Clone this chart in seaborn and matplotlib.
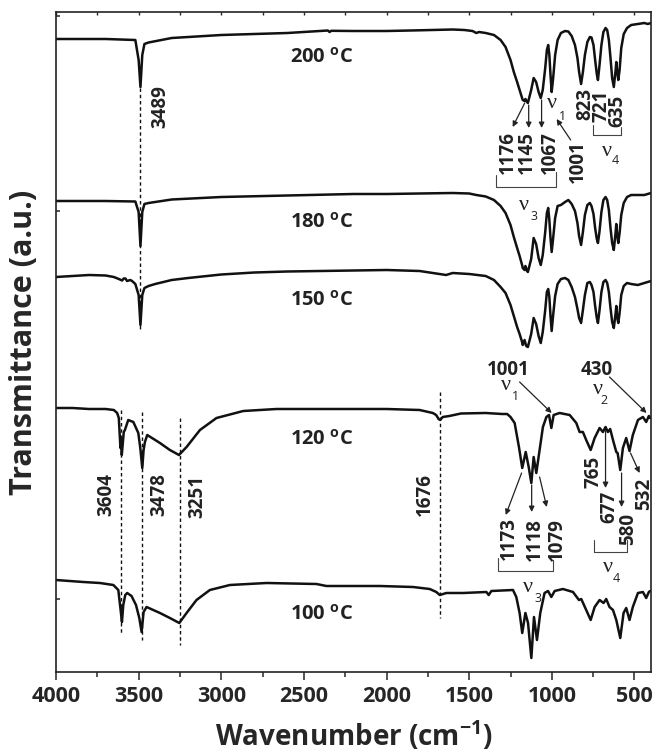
import numpy as np
import pandas as pd
import seaborn as sns
import matplotlib.pyplot as plt

# wavenumber (cm-1) and transmittance (a.u., relative to each trace start)
wn_200 = [4000, 3700, 3520, 3500, 3489, 3478, 3465, 3440, 3300, 3000, 2600, 2355, 2345, 2335, 2200, 2000,
          1800, 1600, 1530, 1480, 1457, 1440, 1400, 1350, 1310, 1280, 1250, 1230, 1210, 1195, 1180, 1176,
          1165, 1160, 1150, 1145, 1125, 1110, 1095, 1080, 1067, 1055, 1040, 1030, 1022, 1015, 1008, 1001,
          992, 980, 965, 945, 920, 900, 880, 860, 845, 835, 823, 812, 800, 785, 770, 760, 748, 738, 728,
          721, 712, 700, 688, 675, 665, 655, 645, 635, 625, 614, 610, 604, 598, 590, 580, 565, 545, 520,
          480, 440, 420, 400]
t_200 = [0, 0, -1, -21, -48, -16, -5, -3.5, 1, 4, 6, 8.5, 7, 8.2, 8, 8,
         8.7, 9.5, 9, 8, 6, 7, 6, 4, -1, -8, -21, -33, -43, -51, -59, -61,
         -62, -60, -63, -64, -51, -39, -43, -53, -59, -51, -29, -11, -6, -16, -36, -53,
         -39, -16, -1, 6, 8, 7.5, 3, -6, -19, -33, -45, -33, -16, -3, 2, 1.5, -6, -21, -35,
         -41, -27, -6, 7, 11, 9, -1, -19, -39, -48, -31, -23, -33, -41, -31, -9, 5, 11, 14,
         15, 16, 15, 16]

wn_180 = [4000, 3700, 3520, 3500, 3489, 3478, 3465, 3440, 3300, 3000, 2600, 2200, 2000, 1800, 1600, 1500,
          1457, 1400, 1350, 1310, 1280, 1250, 1230, 1210, 1195, 1180, 1176, 1165, 1160, 1150, 1145, 1125,
          1110, 1095, 1080, 1067, 1055, 1040, 1030, 1022, 1015, 1008, 1001, 992, 980, 965, 945, 920, 900,
          880, 860, 845, 835, 823, 812, 800, 785, 770, 760, 748, 738, 728, 721, 712, 700, 688, 675, 665,
          655, 645, 635, 625, 614, 610, 604, 598, 590, 580, 565, 545, 520, 480, 440, 400]
t_180 = [0, 0, -0.5, -11, -45, -11, -3, -2, 1.5, 4, 5.5, 7, 7, 7.5, 8, 7.5,
         6, 4.5, 1, -5, -12, -24, -36, -47, -55, -64, -67, -69, -65, -70, -71, -58,
         -37, -43, -57, -64, -54, -31, -12, -7, -19, -37, -51, -37, -17, -5, -4, -1, 1,
         -3, -10, -22, -35, -44, -31, -14, -4, -2, -5, -13, -27, -38, -42, -31, -11, 1, 4, 1,
         -9, -27, -42, -49, -31, -23, -35, -42, -32, -14, -2, 4, 6, 6, 6, 8]

wn_150 = [4000, 3900, 3800, 3700, 3650, 3620, 3600, 3590, 3580, 3570, 3560, 3550, 3540, 3520, 3500, 3489,
          3478, 3465, 3440, 3400, 3300, 3200, 3000, 2800, 2600, 2400, 2200, 2000, 1800, 1640, 1600, 1500,
          1400, 1350, 1310, 1280, 1250, 1230, 1210, 1195, 1180, 1176, 1165, 1155, 1145, 1125, 1110, 1095,
          1080, 1067, 1055, 1040, 1030, 1022, 1015, 1008, 1001, 992, 980, 965, 945, 920, 900, 880, 860,
          845, 835, 823, 812, 800, 785, 770, 760, 748, 738, 728, 721, 712, 700, 688, 675, 665, 655, 645,
          635, 625, 614, 610, 604, 598, 590, 580, 565, 545, 520, 480, 440, 400]
t_150 = [0, 1, 2, 1.5, 0, -2, -3.5, -1.5, -1.5, -4, -3.5, -3, -4, -7, -18, -48,
         -18, -11, -9, -7, -3, -1, 2.5, 4.5, 5.5, 6, 6.5, 7, 6, 2, 4, 3,
         1, -3, -10, -16, -28, -39, -50, -57, -65, -68, -63, -69, -70, -57, -41, -47,
         -59, -66, -55, -33, -15, -12, -20, -39, -54, -38, -19, -7, -2, -1, -3, -10, -20,
         -32, -41, -46, -33, -18, -6, -5, -8, -15, -29, -41, -46, -34, -15, -5, -3, -6, -15, -31,
         -45, -51, -36, -29, -41, -46, -36, -18, -9, -6, -7, -8, -6, -4]

wn_120 = [4000, 3900, 3800, 3700, 3650, 3630, 3620, 3610, 3606, 3602, 3590, 3583, 3563, 3532, 3502, 3490,
          3478, 3470, 3462, 3448, 3371, 3311, 3256, 3210, 3129, 3029, 2867, 2666, 2400, 2200, 2000, 1800,
          1720, 1700, 1685, 1676, 1660, 1620, 1550, 1400, 1350, 1300, 1270, 1250, 1225, 1199, 1179, 1158,
          1140, 1124, 1110, 1094, 1074, 1054, 1033, 1017, 1003, 989, 953, 892, 852, 832, 812, 792, 765,
          741, 711, 691, 675, 661, 647, 630, 610, 602, 586, 570, 550, 530, 510, 479, 449, 429, 413, 405]
t_120 = [0, 0, -1, -1, -2, -5, -10, -40, -32, -47, -24, -22, -12, -14, -25, -40,
         -60, -42, -34, -27, -35, -42, -47, -39, -22, -10, -3, -1, -1, -1, -1, -2,
         -5, -7, -11, -12, -9, -8, -5.5, -5, -5.5, -6, -6, -9, -15, -39, -60, -44,
         -59, -75, -49, -65, -42, -19, -9, -7, -20, -7, -5, -7, -15, -24, -24, -32, -42,
         -30, -20, -24, -19, -24, -21, -32, -44, -45, -62, -40, -30, -43, -27, -12, -9, -14, -8, -10]

wn_100 = [4000, 3835, 3734, 3653, 3623, 3609, 3601, 3593, 3581, 3569, 3543, 3516, 3496, 3482, 3470, 3452,
          3371, 3311, 3254, 3210, 3150, 3069, 2948, 2726, 2424, 2364, 2041, 1840, 1739, 1699, 1678, 1638,
          1537, 1396, 1382, 1366, 1235, 1215, 1195, 1179, 1160, 1144, 1124, 1108, 1090, 1070, 1044, 1023,
          1003, 983, 933, 872, 836, 822, 792, 765, 741, 711, 687, 671, 651, 630, 610, 586, 566, 550,
          530, 510, 479, 449, 429, 413, 405]
t_100 = [0, -2, -3, -5, -10, -30, -42, -25, -15, -13, -16, -25, -38, -52, -32, -27,
         -33, -38, -43, -33, -20, -10, -5, -3, -4, -6, -6, -7, -9, -12, -15, -13,
         -13, -12, -15, -11, -10, -17, -33, -53, -33, -43, -78, -37, -60, -33, -13, -11,
         -17, -11, -9, -12, -20, -19, -30, -40, -27, -20, -23, -19, -27, -30, -40, -58, -33, -28,
         -40, -27, -13, -12, -18, -12, -11]

temps = ['200', '180', '150', '120', '100']
traces = {'200': (wn_200, t_200), '180': (wn_180, t_180), '150': (wn_150, t_150),
          '120': (wn_120, t_120), '100': (wn_100, t_100)}

# marked band positions
oh_peaks = [3489, 3604, 3478, 3251, 1676]

sns.set_theme(style='ticks')
plt.rcParams['font.family'] = ['Open Sans', 'DejaVu Sans']
plt.rcParams['font.weight'] = 'bold'
plt.rcParams['mathtext.fontset'] = 'custom'
plt.rcParams['mathtext.rm'] = 'Open Sans:bold'
plt.rcParams['mathtext.bf'] = 'Open Sans:bold'
plt.rcParams['axes.edgecolor'] = '#222222'

fig = plt.figure(figsize=(6.58, 7.55), dpi=100)
ax = fig.add_axes([56 / 658, 83 / 755, 595 / 658, 660 / 755])

offsets = {'200': 633, '180': 471, '150': 395, '120': 264, '100': 92}
label_y = {'200': 614, '180': 449, '150': 371, '120': 232, '100': 57}

for t in temps:
    wn, tr = traces[t]
    df = pd.DataFrame({'wn': wn, 'T': np.array(tr) + offsets[t]})
    sns.lineplot(data=df, x='wn', y='T', sort=False, estimator=None, color='#111111', lw=1.8, ax=ax)
    ax.text(2392, label_y[t], t + r' $^{\rm o}$C', ha='center', va='center', fontsize=14.5,
            fontweight='bold', color='#222222')

# dashed guide lines
spans = [(584, 341), (262, 39), (260, 32), (254, 27), (280, 54)]
for p, (y0, y1) in zip(oh_peaks, spans):
    ax.plot([p, p], [y0, y1], ls=(0, (2.5, 2)), lw=1.0, color='#111111')

lab_kw = dict(rotation=90, ha='center', va='center', fontsize=13.5, fontweight='bold', color='#222222')
rot_labels = [('3489', 3371, 565), ('1176', 1264, 519), ('1145', 1149, 519), ('1067', 1013, 519),
              ('1001', 842, 510), ('823', 796, 568), ('721', 699, 566), ('635', 602, 561),
              ('3604', 3698, 177), ('3478', 3377, 177), ('3251', 3148, 176), ('1676', 1769, 177),
              ('1173', 1261, 133), ('1118', 1104, 132), ('1079', 971, 132), ('765', 747, 200),
              ('677', 651, 165), ('580', 536, 143), ('532', 439, 178)]
for s, x, y in rot_labels:
    ax.text(x, y, s, **lab_kw)

for s, x, y in [('1001', 1264, 302), ('430', 729, 302)]:
    ax.text(x, y, s, ha='center', va='center', fontsize=13.5, fontweight='bold', color='#222222')

# arrows
arrows = [((1164, 569), (1237, 545)), ((1140, 567), (1140, 544)), ((1062, 572), (1062, 544)),
          ((886, 532), (971, 553)), ((1195, 290), (1001, 259)), ((651, 295), (427, 259)),
          ((1183, 199), (1279, 157)), ((1122, 187), (1122, 160)), ((1074, 195), (1031, 165)),
          ((675, 242), (675, 184)), ((578, 199), (578, 165)), ((524, 219), (469, 199))]
for tail, head in arrows:
    ax.annotate('', xy=head, xytext=tail,
                arrowprops=dict(arrowstyle='-|>', lw=0.9, color='#222222', mutation_scale=8,
                                shrinkA=0, shrinkB=0))

# brackets
brackets = [(1340, 977, 497, 485, 500), (753, 584, 547, 537, 545),
            (1328, 995, 114, 101, 112), (747, 548, 132, 120, 132)]
for xl, xr, yl, yb, yr in brackets:
    ax.plot([xl, xl, xr, xr], [yl, yb, yb, yr], lw=0.8, color='#444444')

# nu labels
nus = [('1', 1002, 569, 935, 556), ('4', 669, 520, 614, 512), ('3', 1170, 467, 1110, 456),
       ('1', 1279, 286, 1219, 275), ('2', 723, 283, 687, 272), ('3', 1146, 85, 1086, 74),
       ('4', 663, 104, 608, 93)]
for sub, x, y, xs, ys in nus:
    ax.text(x, y, '\u03bd', ha='center', va='center', fontsize=16, family='Liberation Serif',
            fontweight='normal', color='#222222')
    ax.text(xs, ys, sub, ha='center', va='center', fontsize=9, fontweight='normal', color='#222222')

ax.set_xlim(4000, 400)
ax.set_ylim(0, 660)
ax.set_xticks([4000, 3500, 3000, 2500, 2000, 1500, 1000, 500])
ax.set_xticks(np.arange(3750, 400, -500), minor=True)
ax.set_yticks([73, 264, 461, 656])
ax.set_yticklabels([])
ax.tick_params(axis='x', which='major', direction='out', length=6, width=1.1, labelsize=15.5, pad=4)
ax.tick_params(axis='x', which='minor', direction='out', length=3.6, width=1.1)
ax.tick_params(axis='y', direction='in', length=3, width=1.1)
for lab in ax.get_xticklabels():
    lab.set_fontweight('bold')

top = ax.secondary_xaxis('top')
top.set_xticks(list(np.arange(4000, 400, -250)))
top.set_xticklabels([])
top.tick_params(direction='in', length=2.5, width=1.0)
top.spines['top'].set_visible(False)

for sp in ax.spines.values():
    sp.set_linewidth(1.2)
    sp.set_visible(True)

ax.set_xlabel(r'Wavenumber (cm$^{-1}$)', fontsize=20, fontweight='bold', labelpad=9)
ax.set_ylabel('Transmittance (a.u.)', fontsize=22, fontweight='bold', labelpad=9)

fig.savefig('out.png', dpi=100)
